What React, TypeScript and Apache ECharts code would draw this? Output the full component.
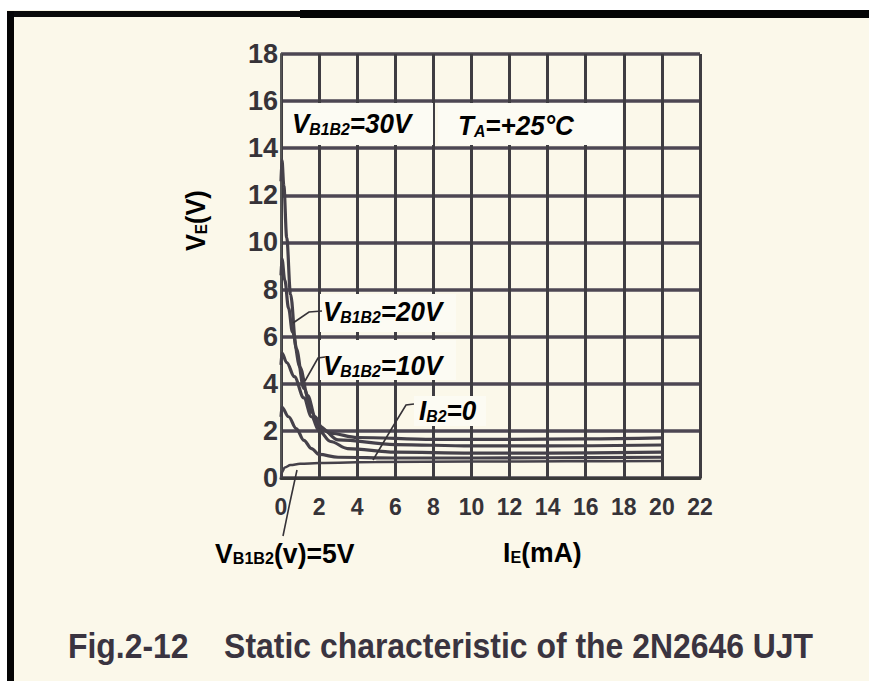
import React, { useEffect, useRef } from "react";
import * as echarts from "echarts";

// Emitter current IE (mA) and emitter voltage VE (V) for each curve
const curve30V: [number, number][] = [
  [0, 12.6], [0.05, 13.5], [0.15, 12.4], [0.3, 10.2], [0.5, 7.8], [0.8, 5.5], [1.2, 3.8],
  [1.6, 2.8], [2, 2.2], [2.6, 1.9], [4, 1.72], [8, 1.64], [12, 1.64], [16, 1.66], [20, 1.7],
];
const curve20V: [number, number][] = [
  [0, 8.6], [0.05, 9.3], [0.2, 8.4], [0.4, 7.2], [0.6, 6.2], [1, 4.7], [1.4, 3.5],
  [1.8, 2.6], [2.2, 2.05], [3, 1.62], [6, 1.42], [10, 1.36], [14, 1.36], [20, 1.4],
];
const curve10V: [number, number][] = [
  [0, 4.8], [0.05, 5.3], [0.3, 4.9], [0.7, 4.3], [1.2, 3.4], [1.6, 2.6], [2, 2.0],
  [2.6, 1.55], [3.5, 1.25], [6, 1.1], [10, 1.06], [14, 1.06], [20, 1.1],
];
const curve5V: [number, number][] = [
  [0, 2.6], [0.05, 3.0], [0.4, 2.6], [0.8, 2.1], [1.2, 1.6], [1.6, 1.25], [2, 1.0],
  [3, 0.88], [6, 0.85], [10, 0.85], [14, 0.86], [20, 0.88],
];
const curveIB0: [number, number][] = [
  [0, 0], [0.05, 0.25], [0.2, 0.45], [0.5, 0.55], [1, 0.6], [2, 0.64], [5, 0.68],
  [10, 0.7], [15, 0.71], [20, 0.72],
];

const curveNames = ["VB1B2=30V", "VB1B2=20V", "VB1B2=10V", "VB1B2=5V", "IB2=0"];
const curves = [curve30V, curve20V, curve10V, curve5V, curveIB0];

const xTicks = { min: 0, max: 22, step: 2 };
const yTicks = { min: 0, max: 18, step: 2 };

const FONT = "'Liberation Sans', Arial, Helvetica, sans-serif";
const INK = "#363338";
const BG = "#fbf8ea";

export default function App() {
  const ref = useRef<HTMLDivElement>(null);

  useEffect(() => {
    if (!ref.current) return;
    const chart = echarts.init(ref.current, undefined, { renderer: "svg" });

    const sub = (size: number, italic = true) => ({
      v: { fontSize: size, fontWeight: "bold", fontStyle: italic ? "italic" : "normal", fontFamily: FONT, color: INK },
      s: { fontSize: Math.round(size * 0.6), fontWeight: "bold", fontStyle: italic ? "italic" : "normal", fontFamily: FONT, color: INK, padding: [Math.round(size * 0.36), 0, 0, 0] },
    });

    const box = (x: number, y: number, w: number, h: number) => ({
      type: "rect", shape: { x, y, width: w, height: h }, style: { fill: "#fcfbf3" }, z: 50,
    });

    const label = (x: number, y: number, text: string, size = 28, italic = true, sx = 0.93) => ({
      type: "text", x, y, z: 60, scaleX: sx,
      style: { text, rich: sub(size, italic), textVerticalAlign: "middle", textAlign: "left" },
    });

    const leader = (points: number[][]) => ({
      type: "polyline", z: 60, shape: { points }, style: { stroke: INK, lineWidth: 1.6, fill: "none" },
    });

    const option: any = {
      animation: false,
      backgroundColor: BG,
      grid: { left: 281, right: 169, top: 54, bottom: 203, containLabel: false },
      xAxis: {
        type: "value", min: xTicks.min, max: xTicks.max, interval: xTicks.step,
        axisLine: { show: true, lineStyle: { color: "#3a3a3a", width: 3 } },
        axisTick: { show: false },
        splitLine: { show: true, lineStyle: { color: "#3f3d42", width: 3 } },
        axisLabel: { margin: 17, fontSize: 23, fontWeight: "bold", fontFamily: FONT, color: INK },
      },
      yAxis: {
        type: "value", min: yTicks.min, max: yTicks.max, interval: yTicks.step,
        axisLine: { show: true, lineStyle: { color: "#555", width: 2 } },
        axisTick: { show: false },
        splitLine: { show: true, lineStyle: { color: "#4d4753", width: 3.5 } },
        axisLabel: { margin: 3, fontSize: 27, fontWeight: "bold", fontFamily: FONT, color: INK },
      },
      series: curves.map((data, i) => ({
        name: curveNames[i],
        type: "line",
        data,
        showSymbol: false,
        smooth: 0.35,
        smoothMonotone: "x",
        lineStyle: { color: "#45414a", width: i === 4 ? 2.5 : 3.2 },
        z: 5,
      })),
      graphic: [
        // page edges of the scanned figure
        { type: "rect", shape: { x: 0, y: 0, width: 869, height: 10 }, style: { fill: "#ffffff" }, z: 40 },
        { type: "rect", shape: { x: 0, y: 0, width: 7, height: 681 }, style: { fill: "#ffffff" }, z: 40 },
        { type: "rect", shape: { x: 7, y: 11, width: 300, height: 6 }, style: { fill: "#0a0a0a" }, z: 41 },
        { type: "rect", shape: { x: 300, y: 10, width: 569, height: 8 }, style: { fill: "#050505" }, z: 41 },
        { type: "rect", shape: { x: 7, y: 11, width: 7, height: 670 }, style: { fill: "#050505" }, z: 41 },
        // text boxes inside the grid
        box(284, 103, 149, 42),
        box(438, 103, 184, 42),
        box(320, 294, 136, 38),
        box(320, 340, 136, 40),
        box(414, 396, 72, 30),
        label(292, 124, "{v|V}{s|B1B2}{v|=30V}"),
        label(458, 126, "{v|T}{s|A}{v|=+25°C}"),
        label(323, 312, "{v|V}{s|B1B2}{v|=20V}"),
        label(323, 366, "{v|V}{s|B1B2}{v|=10V}"),
        label(419, 411, "{v|I}{s|B2}{v|=0}"),
        leader([[322, 311], [309, 312], [293, 323]]),
        leader([[325, 357], [318, 358], [305, 381]]),
        leader([[414, 404], [406, 405], [392, 428], [373, 460]]),
        leader([[283, 536], [290, 502], [297, 470]]),
        label(215, 553, "{v|V}{s|B1B2}{v|(v)=5V}", 28, false, 0.95),
        label(503, 552, "{v|I}{s|E}{v|(mA)}", 28, false, 0.95),
        {
          type: "text", x: 196, y: 251, rotation: Math.PI / 2, z: 60, scaleX: 0.9,
          style: { text: "{v|V}{s|E}{v|(V)}", rich: sub(28, false), textVerticalAlign: "middle", textAlign: "left" },
        },
        {
          type: "text", x: 68, y: 645, scaleX: 0.887, z: 60,
          style: {
            text: "Fig.2-12    Static characteristic of the 2N2646 UJT",
            fontSize: 36, fontWeight: "bold", fontFamily: FONT,
            fill: "#3a3440", textVerticalAlign: "middle", textAlign: "left",
          },
        },
      ],
    };

    chart.setOption(option);
    return () => chart.dispose();
  }, []);

  return (
    <div
      ref={ref}
      style={{ position: "fixed", left: 0, top: 0, width: 869, height: 681 }}
    />
  );
}
